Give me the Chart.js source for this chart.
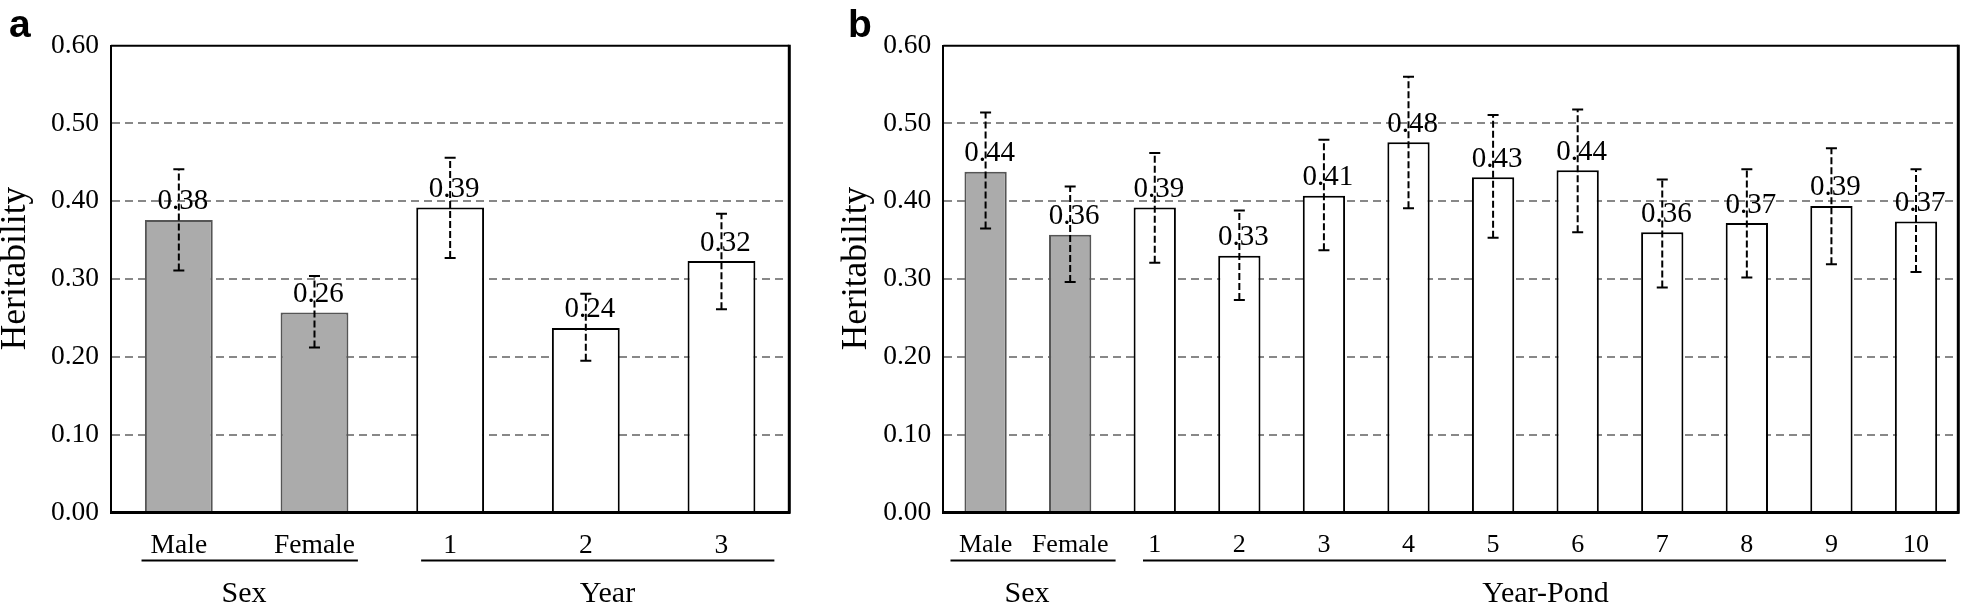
<!DOCTYPE html>
<html lang="en">
<head>
<meta charset="UTF-8">
<title>Heritability</title>
<script src="https://cdn.jsdelivr.net/npm/chart.js"></script>
<style>
  body { margin: 0; background: #fff; }
  #wrapA { position: absolute; left: 0; top: 0; width: 830px; height: 603px; }
  #wrapB { position: absolute; left: 830px; top: 0; width: 1131px; height: 603px; }
  .warm { position: absolute; left: -9999px; top: 0; }
</style>
</head>
<body>
<span class="warm" style="font-family: 'Liberation Serif'; font-size: 27px;">0.60 Heritability</span>
<span class="warm" style="font-family: 'Liberation Sans'; font-weight: bold; font-size: 38px;">ab</span>
<div id="wrapA"><canvas id="chartA"></canvas></div>
<div id="wrapB"><canvas id="chartB"></canvas></div>
<script>
// panel a
var catsA = ['Male', 'Female', '1', '2', '3'];
var valsA = [0.376, 0.257, 0.392, 0.237, 0.323];
var lowA = [0.311, 0.212, 0.327, 0.195, 0.261];
var highA = [0.441, 0.304, 0.456, 0.281, 0.384];
var groupsA = ['Sex', 'Year'];

// panel b
var catsB = ['Male', 'Female', '1', '2', '3', '4', '5', '6', '7', '8', '9', '10'];
var valsB = [0.438, 0.357, 0.392, 0.330, 0.407, 0.476, 0.431, 0.440, 0.360, 0.372, 0.394, 0.374];
var lowB = [0.365, 0.296, 0.321, 0.273, 0.337, 0.391, 0.353, 0.360, 0.289, 0.302, 0.319, 0.309];
var highB = [0.514, 0.419, 0.462, 0.388, 0.479, 0.560, 0.511, 0.518, 0.428, 0.441, 0.468, 0.441];
var groupsB = ['Sex', 'Year-Pond'];

var yTicks = [0, 0.1, 0.2, 0.3, 0.4, 0.5, 0.6];
var yTitle = 'Heritability';

var SERIF = "'Liberation Serif', 'Times New Roman', Times, serif";
var SANS = "'Liberation Sans', Arial, Helvetica, sans-serif";

function decor(p) {
  return {
    id: 'decor',
    afterDatasetsDraw: function (chart) {
      var ctx = chart.ctx, area = chart.chartArea;
      var xs = chart.scales.x, ys = chart.scales.y;
      var meta = chart.getDatasetMeta(0);
      ctx.save();

      // value labels
      ctx.fillStyle = '#000';
      ctx.font = '29px ' + SERIF;
      ctx.textAlign = 'center';
      ctx.textBaseline = 'alphabetic';
      p.vals.forEach(function (v, i) {
        var bar = meta.data[i];
        ctx.fillText(v.toFixed(2), bar.x + 4, bar.y - 10.5);
      });

      // error bars
      ctx.strokeStyle = '#000';
      ctx.lineWidth = 2;
      p.low.forEach(function (lo, i) {
        var cx = meta.data[i].x;
        var y1 = ys.getPixelForValue(lo), y2 = ys.getPixelForValue(p.high[i]);
        ctx.setLineDash([7, 3]);
        ctx.beginPath();
        ctx.moveTo(cx, y1);
        ctx.lineTo(cx, y2);
        ctx.stroke();
        ctx.setLineDash([]);
        ctx.beginPath();
        ctx.moveTo(cx - 5.5, y1); ctx.lineTo(cx + 5.5, y1);
        ctx.moveTo(cx - 5.5, y2); ctx.lineTo(cx + 5.5, y2);
        ctx.stroke();
      });

      // top and right frame
      ctx.beginPath();
      ctx.lineWidth = 2;
      ctx.moveTo(area.left, area.top);
      ctx.lineTo(area.right, area.top);
      ctx.stroke();
      ctx.beginPath();
      ctx.lineWidth = 3;
      ctx.moveTo(area.right, area.top - 1);
      ctx.lineTo(area.right, area.bottom + 1.5);
      ctx.stroke();

      // group lines + names under the axis
      ctx.lineWidth = 2;
      ctx.font = '30px ' + SERIF;
      p.groups.forEach(function (name, g) {
        var span = p.spans[g];
        var gy = area.bottom + 48.2;
        ctx.beginPath();
        ctx.moveTo(xs.getPixelForValue(span[0]), gy);
        ctx.lineTo(xs.getPixelForValue(span[1]), gy);
        ctx.stroke();
        ctx.fillText(name, xs.getPixelForValue(p.nameAt[g]), area.bottom + 89.5);
      });

      // y title
      ctx.save();
      ctx.font = '35.5px ' + SERIF;
      ctx.textBaseline = 'middle';
      ctx.translate(area.left - p.titleDx, (area.top + area.bottom) / 2 - 10.5);
      ctx.rotate(-Math.PI / 2);
      ctx.fillText(yTitle, 0, 0);
      ctx.restore();

      // panel letter
      ctx.font = 'bold 39px ' + SANS;
      ctx.textAlign = 'left';
      ctx.fillText(p.letter, p.letterX, 37);
      ctx.restore();
    }
  };
}

function makeChart(id, p) {
  var fills = p.cats.map(function (c, i) { return i < 2 ? '#ababab' : '#ffffff'; });
  var edges = p.cats.map(function (c, i) { return i < 2 ? '#555555' : '#000000'; });
  return new Chart(document.getElementById(id), {
    type: 'bar',
    data: {
      labels: p.cats,
      datasets: [{
        data: p.vals,
        backgroundColor: fills,
        borderColor: edges,
        borderWidth: 2,
        categoryPercentage: 1,
        barPercentage: 0.5
      }]
    },
    options: {
      responsive: true,
      maintainAspectRatio: false,
      animation: false,
      layout: { padding: { left: 0, right: p.padRight, top: 45.7, bottom: 0 } },
      plugins: { legend: { display: false }, tooltip: { enabled: false } },
      scales: {
        x: {
          grid: { display: false, drawTicks: false },
          border: { display: true, color: '#000', width: 3, z: 1 },
          ticks: { color: '#000', padding: 17, maxRotation: 0, autoSkip: false,
                   font: { family: SERIF, size: p.catFont } },
          afterFit: function (s) { s.height = 90.7; }
        },
        y: {
          min: 0,
          max: 0.6,
          afterBuildTicks: function (s) { s.ticks = yTicks.map(function (v) { return { value: v }; }); },
          grid: {
            drawTicks: false,
            lineWidth: 2,
            color: function (c) {
              var v = c.tick && c.tick.value;
              return (v > 0 && v < 0.6) ? '#888888' : 'rgba(0,0,0,0)';
            }
          },
          border: { display: true, color: '#000', width: 2, dash: [8, 5], z: 1 },
          ticks: { color: '#000', padding: 12, font: { family: SERIF, size: 27.5 },
                   callback: function (v) { return Number(v).toFixed(2); } },
          afterFit: function (s) { s.width = p.axisW; }
        }
      }
    },
    plugins: [decor(p)]
  });
}

function build() {
  Chart.defaults.font.family = SERIF;
  makeChart('chartA', {
    cats: catsA, vals: valsA, low: lowA, high: highA, groups: groupsA,
    spans: [[-0.275, 1.32], [1.786, 4.39]], nameAt: [0.481, 3.16],
    letter: 'a', letterX: 9, titleDx: 95, axisW: 111, padRight: 40.7, catFont: 27.5
  });
  makeChart('chartB', {
    cats: catsB, vals: valsB, low: lowB, high: highB, groups: groupsB,
    spans: [[-0.415, 1.537], [1.861, 11.355]], nameAt: [0.49, 6.62],
    letter: 'b', letterX: 18, titleDx: 87, axisW: 113.3, padRight: 2.7, catFont: 26
  });
}

var loads = [
  document.fonts.load("27px 'Liberation Serif'"),
  document.fonts.load("bold 38px 'Liberation Sans'")
];
Promise.all(loads).then(build, build);
</script>
</body>
</html>
